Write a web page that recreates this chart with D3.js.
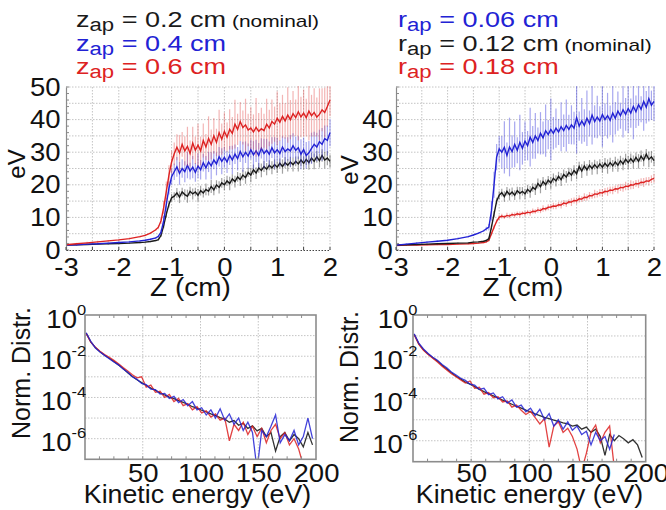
<!DOCTYPE html>
<html>
<head>
<meta charset="utf-8">
<script src="https://cdn.jsdelivr.net/npm/d3@7"></script>
<style>
  body { margin: 0; background: #fff; }
  svg { display: block; font-family: "Liberation Sans", Arial, Helvetica, sans-serif; }
</style>
</head>
<body>
<svg id="fig" width="666" height="510"></svg>
<script>
// ---------- axial profiles: mean energy (eV) vs Z (cm) ----------
const zPos = [-3,-2.8,-2.6,-2.4,-2.2,-2,-1.8,-1.6,-1.5,-1.4,-1.3,-1.25,-1.2,-1.15,-1.1,-1.05,-1,
  -0.95,-0.9,-0.85,-0.8,-0.75,-0.7,-0.65,-0.6,-0.55,-0.5,-0.45,-0.4,-0.35,-0.3,-0.25,-0.2,-0.15,-0.1,-0.05,0,
  0.05,0.1,0.15,0.2,0.25,0.3,0.35,0.4,0.45,0.5,0.55,0.6,0.65,0.7,0.75,0.8,0.85,0.9,0.95,1,
  1.05,1.1,1.15,1.2,1.25,1.3,1.35,1.4,1.45,1.5,1.55,1.6,1.65,1.7,1.75,1.8,1.85,1.9,1.95,2];

// aperture length z_ap
const zap02 = [1.5,1.6,1.7,1.8,1.9,2.0,2.1,2.3,2.4,2.6,2.9,3.2,4.5,7.5,11,14,16,
  16.5,17.5,16.2,17.8,17,16.5,18,17.2,17.8,16.8,18.2,17.5,18.6,18,19.5,18.4,20,19.2,20.6,20,
  21.2,20.4,21.8,21,22.4,21.6,23,22.2,23.8,23,24.6,23.6,25.2,24.4,25.6,24.8,26,25.2,26.2,25.4,
  26.6,25.6,26.8,26,27,26.2,27.2,26.4,27.6,26.6,27.8,26.8,28.2,27.2,28.6,27.4,29,27.6,28.2,27.2];
const zap02Err = [0.2,0.2,0.2,0.2,0.2,0.2,0.2,0.2,0.2,0.2,0.2,0.3,0.5,0.8,1,1,1.2,
  1.2,1.5,1.8,1.3,1.6,2,1.4,1.7,1.3,1.9,1.5,1.4,1.8,1.3,2,1.6,1.4,1.9,1.5,1.7,
  1.6,2.1,1.4,1.8,1.5,2,1.6,1.9,1.4,2.2,1.6,1.8,1.5,2.1,1.7,1.9,1.5,2,1.6,1.8,
  1.5,2.2,1.7,1.9,1.6,2.1,1.5,2.3,1.8,2,1.7,2.2,1.6,2.4,1.8,2.1,1.9,2.5,2.2,2];

const zap04 = [1.5,1.6,1.8,1.9,2.1,2.3,2.5,2.8,3.0,3.3,3.7,4.2,5.5,9,14,19,22.5,
  24,25.5,23.5,25,24,26,24.2,25.4,23.8,25.8,24.6,26.8,25.2,27,25.8,27.6,26.4,28.6,27.2,28.4,
  27,29,27.6,29.4,28,30.2,28.6,30,28.8,30.8,29.2,30.4,29,31.2,29.6,30.6,29.4,31.4,29.8,30.8,
  29.6,31.6,30.2,31,30.4,32,30.6,31.4,29.4,30.8,29,29.8,31.2,32.4,31.6,33.2,32.4,34.2,33.6,36];
const zap04Err = [0.3,0.3,0.3,0.3,0.3,0.3,0.3,0.3,0.3,0.3,0.3,0.5,0.8,1.5,2,2,2.5,
  2.5,3,3.5,2.8,3.2,4,2.6,3.4,2.9,3.8,3,2.7,3.6,3.1,4.2,2.8,3.5,3,4,3.2,
  3.4,2.9,4.4,3,3.6,3.2,4.6,3.3,3.9,3,4.2,3.4,3.8,3.1,4.5,3.5,3.9,3.2,4.8,3.6,
  4,3.3,4.4,3.6,4.9,3.8,4.2,3.5,4.6,3.7,4.1,3.6,4.8,3.9,4.4,3.7,5,4,4.6,4.2];

const zap06 = [1.6,1.9,2.2,2.5,2.8,3.1,3.5,4.1,4.5,5.2,6.2,7,9,13,18,23,27,
  29.5,31.5,29.8,32.4,30.4,31.8,29.6,32.8,30.6,32.2,30.4,33.6,31.6,34.2,32.4,35,33,36,34,36.4,
  34.6,37,35.8,38.6,37,39.4,37.6,38.4,36.8,37.4,36.2,37.6,36.4,37.2,36.6,38.6,37.4,39.4,38.6,40.4,
  39.2,41,39.6,41.4,40,41.8,40.6,42.4,40.8,42,40.6,42.6,41.2,42.2,40.8,41.6,43,42.2,44,46];
const zap06Err = [0.3,0.3,0.3,0.3,0.3,0.3,0.3,0.3,0.3,0.3,0.3,0.6,1,2,3,3,3.5,
  3.5,4,5.5,3.8,4.5,6,4,5,4.2,6.5,4.4,5.2,4,6.8,4.6,5.5,4.2,7,4.8,5.8,
  4.5,6.2,5,7.5,4.8,6,5.2,8,5,6.5,5.4,9,5.6,6.4,5.2,7.8,5.6,6.8,5.4,8.2,
  5.8,6.6,5.5,8.5,6,7,5.6,8.8,6.2,7.2,5.8,9,6.4,7.4,6,8,6.6,7.6,6.2,5];

// aperture radius r_ap
const rap006 = [1.5,1.8,2.1,2.4,2.7,3.0,3.5,4.1,4.6,5.2,5.9,6.5,7,12,20,28.5,31,
  30,31.5,29,31.6,30.2,32.4,30.6,33,31.2,33.4,32,34.6,33,35,33.6,35.8,34.4,36.6,35.4,37,
  35.8,37.4,36.2,37.8,36.6,38.2,37,38.4,37.4,40.6,38,39.6,38.2,40.4,38.8,41.4,39.4,40.8,39.6,41.6,
  40,41.2,39.8,42,40.4,42.6,41.2,43,41.6,43.4,42,44,42.4,44.6,43.2,45.6,43.8,46.4,44.4,45.6];
const rap006Err = [0.3,0.3,0.3,0.3,0.3,0.3,0.3,0.3,0.3,0.3,0.3,0.6,1,3,4,4,4,
  5,8,4,9,5,7,4,8.5,5,6,4.5,9,5,7,4,6.5,5,8,4.5,9.5,
  5,6,4,7.5,5,8,4.5,6,5,11,4.5,7,5,8.5,4,9,5,6.5,4.5,10,
  5,7,4.5,9,5,6,4,8.5,5,7.5,4.5,10,5,6.5,4,9,5,7,4.5,6];

const rap012 = [1.5,1.6,1.7,1.8,1.9,2.0,2.1,2.2,2.4,2.5,2.7,2.9,3.5,7,11,15,16.8,
  17.6,16.4,18,17,17.8,16.8,18.2,17.4,18,17.2,18.6,17.8,19.2,18.6,20.4,19.4,21,20,21.4,20.6,
  22,21.2,22.6,21.6,23.2,22.4,23.8,23,24.4,23.4,25.6,24.2,25.8,24.6,26,25,26.2,25.2,26.4,25.4,
  26.6,25.6,26.8,25.8,27,26,27.4,26.4,27.8,26.8,28,27,28.4,27.2,28.8,27.6,29.4,27.8,28.6,27.4];
const rap012Err = [0.2,0.2,0.2,0.2,0.2,0.2,0.2,0.2,0.2,0.2,0.2,0.3,0.6,0.8,1,1,1.2,
  1.2,1.6,1.3,1.8,1.4,1.5,1.2,1.9,1.3,1.6,1.4,1.8,1.3,1.7,1.5,2,1.4,1.6,1.3,1.9,
  1.5,1.7,1.4,2,1.5,1.8,1.4,1.9,1.6,1.7,1.5,2.1,1.4,1.8,1.6,1.9,1.5,2,1.4,1.7,
  1.6,2.2,1.5,1.8,1.6,2,1.5,1.9,1.7,2.1,1.6,2,1.5,2.2,1.7,1.9,1.6,2.4,1.8,1.6];

const rap018 = [1.4,1.5,1.55,1.6,1.65,1.7,1.8,1.9,2.0,2.1,2.3,2.5,3,5,7,8.8,10,
  10.4,10.1,10.6,10.4,10.9,10.7,11.1,10.9,11.3,11.2,11.6,11.4,11.9,11.8,12.3,12.1,12.7,12.6,13.1,13.2,
  13.5,13.4,13.9,13.8,14.4,14.2,14.8,14.7,15.2,15.1,15.7,15.6,16.2,16.1,16.7,16.6,17.2,17.1,17.6,17.5,
  18,17.9,18.4,18.3,18.8,18.7,19.2,19.1,19.6,19.5,20,19.9,20.4,20.3,20.8,20.7,21.2,21.1,21.7,22];
const rap018Err = [0.2,0.2,0.2,0.2,0.2,0.2,0.2,0.2,0.2,0.2,0.2,0.3,0.4,0.5,0.6,0.6,0.7,
  0.7,0.6,0.8,0.7,0.6,0.8,0.7,0.9,0.6,0.8,0.7,0.9,0.8,0.7,0.9,0.8,1,0.7,0.9,0.8,
  1,0.9,0.8,1.1,0.9,1,0.8,1.2,0.9,1,1.1,0.9,1.2,1,1.1,0.9,1.3,1,1.1,1.2,
  1,1.3,1.1,1.2,1,1.4,1.1,1.2,1.3,1.1,1.4,1.2,1.1,1.3,1.2,1.4,1.1,1.3,1.2,1.4];

const profileXTicks = [-3,-2,-1,0,1,2];
const profileYTicksLeft = [0,10,20,30,40,50];
const profileYTicksRight = [0,10,20,30,40];

// ---------- kinetic energy distributions (log10 of normalized distribution) ----------
const energy = [1,5,9,13,17,21,25,29,33,37,41,45,49,53,57,61,65,69,73,77,
  81,85,89,93,97,101,105,109,113,117,121,125,129,133,137,141,145,149,153,157,
  161,165,169,173,177,181,185,189,193,197];

const distZap02 = [-0.88,-1.30,-1.58,-1.78,-1.95,-2.1,-2.25,-2.42,-2.6,-2.8,
  -2.98,-3.14,-3.28,-3.42,-3.55,-3.66,-3.78,-3.88,-3.98,-4.06,
  -4.15,-4.24,-4.33,-4.45,-4.52,-4.62,-4.7,-4.8,-4.88,-4.98,
  -5.05,-5.2,-5.12,-5.35,-5.25,-5.5,-5.38,-5.62,-5.5,-5.9,
  -5.7,-6.6,-5.9,-5.7,-6.1,-5.8,-6.0,-6.4,-5.7,-6.3];
const distZap04 = [-0.86,-1.28,-1.6,-1.8,-1.96,-2.12,-2.28,-2.42,-2.62,-2.78,
  -3.0,-3.12,-3.32,-3.38,-3.6,-3.62,-3.84,-3.8,-4.05,-3.95,
  -4.25,-4.1,-4.4,-4.2,-4.6,-4.5,-4.85,-4.6,-5.0,-4.55,
  -5.1,-4.8,-5.3,-5.0,-5.6,-5.2,-5.7,-7.5,-5.6,-5.9,
  -5.4,-4.85,-6.2,-5.8,-6.1,-5.6,-6.3,-5.9,-5.0,-6.0];
const distZap06 = [-0.9,-1.32,-1.56,-1.76,-1.92,-2.05,-2.2,-2.36,-2.55,-2.72,
  -2.9,-3.05,-3.0,-3.5,-3.4,-3.75,-3.7,-4.0,-3.85,-4.2,
  -4.05,-4.4,-4.3,-4.6,-4.45,-4.75,-4.65,-4.95,-4.8,-5.1,
  -5.0,-6.1,-5.3,-5.6,-5.2,-5.8,-5.4,-5.9,-5.5,-6.2,
  -5.6,-5.3,-6.0,-5.7,-6.3,-6.0,-6.5,-7.3,null,null];

const distRap012 = [-0.92,-1.38,-1.66,-1.86,-2.04,-2.2,-2.4,-2.58,-2.76,-2.92,
  -3.06,-3.2,-3.3,-3.42,-3.55,-3.66,-3.76,-3.86,-3.96,-4.06,
  -4.16,-4.26,-4.36,-4.44,-4.54,-4.62,-4.72,-4.8,-4.88,-4.95,
  -5.02,-5.08,-5.15,-5.2,-5.3,-5.25,-5.45,-5.35,-5.6,-5.45,
  -5.8,-6.7,-5.7,-6.0,-5.75,-5.9,-6.1,-5.95,-6.2,-6.8];
const distRap006 = [-0.9,-1.34,-1.62,-1.84,-2.02,-2.16,-2.36,-2.52,-2.72,-2.86,
  -3.02,-3.12,-3.3,-3.35,-3.55,-3.5,-3.8,-3.72,-4.0,-3.9,
  -4.2,-4.05,-4.4,-4.3,-4.62,-4.45,-4.8,-4.5,-5.0,-4.7,
  -5.3,-5.0,-5.45,-5.1,-5.5,-5.3,-5.7,-5.55,-6.2,-5.6,
  -6.0,-5.8,-6.4,-5.7,null,null,null,null,null,null];
const distRap018 = [-0.94,-1.4,-1.68,-1.88,-2.06,-2.24,-2.44,-2.62,-2.8,-2.95,
  -3.1,-3.25,-3.15,-3.5,-3.45,-3.78,-3.7,-3.95,-3.9,-4.15,
  -4.1,-4.4,-4.3,-4.55,-4.75,-4.6,-4.9,-5.2,-4.95,-6.3,
  -5.3,-5.1,-5.6,-5.4,-5.8,-6.4,-7.4,-6.6,-5.6,-5.25,
  -6.1,-5.6,-5.3,-7.3,null,null,null,null,null,null];

const energyTicks = [50,100,150,200];
const decadeTicks = [0,-2,-4,-6];

// ---------- styling ----------
const C = {
  black: "#1a1a1a", blackErr: "rgba(70,70,70,0.5)",
  blue: "#2222d4", blueErr: "rgba(60,60,220,0.45)",
  red: "#dd2222", redErr: "rgba(225,70,70,0.4)",
  grid: "#c4c4c4", frame: "#8c8c8c"
};
const SX = 1.1;   // horizontal stretch of the lettering

const svg = d3.select("#fig");
const defs = svg.append("defs");

function textAt(parent, x, y, str, size, opts = {}) {
  const g = parent.append("g")
    .attr("transform", `translate(${x},${y})` + (opts.rotate ? ` rotate(${opts.rotate})` : "") + ` scale(${opts.sx || SX},1)`);
  return g.append("text")
    .attr("font-size", size)
    .attr("text-anchor", opts.anchor || "middle")
    .attr("fill", opts.fill || "#111")
    .text(str);
}

// ---------- energy profile panel ----------
function profilePanel(cfg) {
  const { x0, x1, y0, y1 } = cfg.box;
  const x = d3.scaleLinear().domain([-3, 2]).range([x0, x1]);
  const y = d3.scaleLinear().domain([0, 50]).range([y1, y0]);
  const g = svg.append("g");

  g.append("g").selectAll("line").data(d3.range(-2.5, 2.01, 0.5)).join("line")
    .attr("x1", d => x(d)).attr("x2", d => x(d)).attr("y1", y0).attr("y2", y1)
    .attr("stroke", C.grid).attr("stroke-dasharray", "1.5,1.5");
  g.append("g").selectAll("line").data(d3.range(5, 50.01, 5)).join("line")
    .attr("x1", x0).attr("x2", x1).attr("y1", d => y(d)).attr("y2", d => y(d))
    .attr("stroke", C.grid).attr("stroke-dasharray", "1.5,1.5");

  defs.append("clipPath").attr("id", cfg.id).append("rect")
    .attr("x", x0).attr("y", y0 - 1).attr("width", x1 - x0 + 1).attr("height", y1 - y0 + 1);
  const plot = g.append("g").attr("clip-path", `url(#${cfg.id})`);

  cfg.series.forEach(s => {
    const pts = zPos.map((z, i) => ({ z, v: s.values[i], e: s.errors[i] }));
    plot.append("g").selectAll("line").data(pts).join("line")
      .attr("x1", d => x(d.z)).attr("x2", d => x(d.z))
      .attr("y1", d => y(d.v - d.e)).attr("y2", d => y(d.v + d.e))
      .attr("stroke", s.errColor).attr("stroke-width", 1.2);
    plot.append("path").datum(pts)
      .attr("d", d3.line().x(d => x(d.z)).y(d => y(d.v)))
      .attr("fill", "none").attr("stroke", s.color).attr("stroke-width", 1.4);
  });

  // left axis
  const ya = g.append("g").attr("transform", `translate(${x0},0)`)
    .call(d3.axisLeft(y).tickValues(cfg.yTicks).tickSize(0).tickPadding(cfg.yPad));
  ya.select(".domain").attr("stroke", "#8a8a8a").attr("stroke-width", 1.2);
  ya.selectAll("text").attr("font-size", 25).attr("fill", "#111")
    .attr("font-family", null).attr("transform", `scale(${SX},1)`);
  g.append("g").selectAll("line").data(d3.range(0, 50.01, 2)).join("line")
    .attr("x1", x0).attr("x2", x0 + 3).attr("y1", d => y(d)).attr("y2", d => y(d))
    .attr("stroke", "#8a8a8a");

  // bottom axis (dotted baseline)
  const xa = g.append("g").attr("transform", `translate(0,${y1})`)
    .call(d3.axisBottom(x).tickValues(profileXTicks).tickSize(0).tickPadding(8).tickFormat(d => String(d)));
  xa.select(".domain").attr("stroke", "#444").attr("stroke-dasharray", "1.5,1.5").attr("stroke-width", 1.2);
  xa.selectAll("text").attr("font-size", 25).attr("fill", "#111")
    .attr("font-family", null).attr("transform", `scale(${SX},1)`);
  g.append("g").selectAll("line").data(d3.range(-3, 2.01, 0.5)).join("line")
    .attr("x1", d => x(d)).attr("x2", d => x(d)).attr("y1", y1).attr("y2", y1 - 3)
    .attr("stroke", "#444");

  textAt(g, cfg.xLabel[0], cfg.xLabel[1], "Z (cm)", 25, { sx: 1.12 });
  textAt(g, cfg.yLabel[0], cfg.yLabel[1], "eV", 24, { rotate: -90, sx: 1 });
}

// ---------- distribution panel ----------
function spectrumPanel(cfg) {
  const { x0, x1, y0, y1 } = cfg.box;
  const x = d3.scaleLinear().domain([0, 200]).range([x0, x1]);
  const y = d3.scaleLinear().domain([-7, 0]).range([y1, y0]);
  const g = svg.append("g");

  g.append("g").selectAll("line").data([50, 100, 150]).join("line")
    .attr("x1", d => x(d)).attr("x2", d => x(d)).attr("y1", y0).attr("y2", y1)
    .attr("stroke", C.grid).attr("stroke-dasharray", "1.5,1.5");
  g.append("g").selectAll("line").data(d3.range(-6, -0.5, 1)).join("line")
    .attr("x1", x0).attr("x2", x1).attr("y1", d => y(d)).attr("y2", d => y(d))
    .attr("stroke", C.grid).attr("stroke-dasharray", "1.5,1.5");

  defs.append("clipPath").attr("id", cfg.id).append("rect")
    .attr("x", x0).attr("y", y0).attr("width", x1 - x0).attr("height", y1 - y0);
  const plot = g.append("g").attr("clip-path", `url(#${cfg.id})`);
  cfg.series.forEach(s => {
    const pts = energy.map((e, i) => ({ e, v: s.values[i] }));
    plot.append("path").datum(pts)
      .attr("d", d3.line().defined(d => d.v != null).x(d => x(d.e)).y(d => y(d.v)))
      .attr("fill", "none").attr("stroke", s.color).attr("stroke-width", 1.3)
      .attr("stroke-opacity", s.opacity || 1);
  });

  // frame with minor ticks
  g.append("rect").attr("x", x0).attr("y", y0).attr("width", x1 - x0).attr("height", y1 - y0)
    .attr("fill", "none").attr("stroke", C.frame).attr("stroke-width", 1.6);
  const minor = d3.range(12.5, 200, 12.5);
  g.append("g").selectAll("line").data(minor).join("line")
    .attr("x1", d => x(d)).attr("x2", d => x(d)).attr("y1", y0).attr("y2", y0 + 3)
    .attr("stroke", C.frame);
  g.append("g").selectAll("line").data(minor).join("line")
    .attr("x1", d => x(d)).attr("x2", d => x(d)).attr("y1", y1).attr("y2", y1 - 3)
    .attr("stroke", C.frame);

  const xa = g.append("g").attr("transform", `translate(0,${y1})`)
    .call(d3.axisBottom(x).tickValues(energyTicks).tickSize(0).tickPadding(cfg.xPad));
  xa.select(".domain").remove();
  xa.selectAll("text").attr("font-size", 25).attr("fill", "#111")
    .attr("font-family", null).attr("transform", `scale(${SX},1)`);

  const ya = g.append("g").attr("transform", `translate(${x0},0)`)
    .call(d3.axisLeft(y).tickValues(decadeTicks).tickSize(0).tickPadding(cfg.yPad).tickFormat(""));
  ya.select(".domain").remove();
  ya.selectAll("text").attr("font-family", null).attr("fill", "#111")
    .attr("dy", 12).attr("transform", `scale(${SX},1)`)
    .each(function (d) {
      const t = d3.select(this);
      t.append("tspan").attr("font-size", 25).text("10");
      t.append("tspan").attr("font-size", 15).attr("dy", -13).text(String(d));
    });

  textAt(g, cfg.xLabel[0], cfg.xLabel[1], "Kinetic energy (eV)", 25, { sx: 1.07 });
  textAt(g, cfg.yLabel[0], cfg.yLabel[1], "Norm. Distr.", 25, { rotate: -90, sx: 1 });
}

// ---------- legends ----------
function legend(x, y, lines) {
  const g = svg.append("g").attr("transform", `translate(${x},${y}) scale(1.23,1)`);
  lines.forEach((ln, i) => {
    const t = g.append("text").attr("y", i * 23.6).attr("fill", ln.color).attr("font-size", 22);
    t.append("tspan").text(ln.sym);
    t.append("tspan").attr("font-size", 18).attr("dy", 4).text("ap");
    t.append("tspan").attr("dy", -4).text(" = " + ln.value + " cm");
    if (ln.note) t.append("tspan").attr("font-size", 17).attr("fill", "#111").text(" " + ln.note);
  });
}

legend(76, 27, [
  { sym: "z", value: "0.2", color: C.black, note: "(nominal)" },
  { sym: "z", value: "0.4", color: C.blue },
  { sym: "z", value: "0.6", color: C.red }
]);
legend(398, 27, [
  { sym: "r", value: "0.06", color: C.blue },
  { sym: "r", value: "0.12", color: C.black, note: "(nominal)" },
  { sym: "r", value: "0.18", color: C.red }
]);

profilePanel({
  id: "clipZap", box: { x0: 66, x1: 330, y0: 87, y1: 250 },
  yTicks: profileYTicksLeft, yPad: 5, xLabel: [190.5, 296], yLabel: [25, 164],
  series: [
    { values: zap02, errors: zap02Err, color: C.black, errColor: C.blackErr },
    { values: zap04, errors: zap04Err, color: C.blue, errColor: C.blueErr },
    { values: zap06, errors: zap06Err, color: C.red, errColor: C.redErr }
  ]
});
profilePanel({
  id: "clipRap", box: { x0: 396, x1: 654, y0: 87, y1: 250 },
  yTicks: profileYTicksRight, yPad: 3, xLabel: [523, 296], yLabel: [358, 170],
  series: [
    { values: rap018, errors: rap018Err, color: C.red, errColor: C.redErr },
    { values: rap012, errors: rap012Err, color: C.black, errColor: C.blackErr },
    { values: rap006, errors: rap006Err, color: C.blue, errColor: C.blueErr }
  ]
});

spectrumPanel({
  id: "clipSpecZ", box: { x0: 85, x1: 316, y0: 315, y1: 459.3 },
  xPad: 5, yPad: -1, xLabel: [197.5, 503], yLabel: [30, 373],
  series: [
    { values: distZap02, color: "#333" },
    { values: distZap06, color: C.red, opacity: 0.85 },
    { values: distZap04, color: C.blue, opacity: 0.85 }
  ]
});
spectrumPanel({
  id: "clipSpecR", box: { x0: 413, x1: 645.7, y0: 315, y1: 461.7 },
  xPad: 3, yPad: -4, xLabel: [529.5, 503], yLabel: [358, 377],
  series: [
    { values: distRap012, color: "#333" },
    { values: distRap018, color: C.red, opacity: 0.85 },
    { values: distRap006, color: C.blue, opacity: 0.85 }
  ]
});
</script>
</body>
</html>
